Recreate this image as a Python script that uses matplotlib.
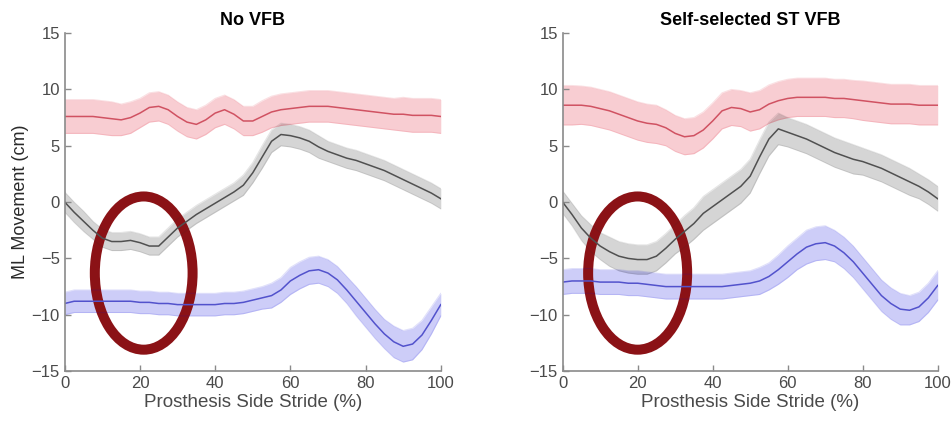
import matplotlib
matplotlib.use('Agg')
import matplotlib.pyplot as plt
import numpy as np
from matplotlib.patches import Ellipse

plt.rcParams['font.family'] = ['Liberation Sans', 'DejaVu Sans']

# stride percentage where the curves were sampled
stride = np.arange(0, 100.1, 2.5)

# No VFB: mean and spread (cm)
novfb_red = [7.6, 7.6, 7.6, 7.6, 7.5, 7.4, 7.3, 7.5, 7.9, 8.4, 8.5, 8.2, 7.6, 7.1, 6.9, 7.3, 7.9, 8.2, 7.8, 7.2, 7.2,
             7.6, 8.0, 8.2, 8.3, 8.4, 8.5, 8.5, 8.5, 8.4, 8.3, 8.2, 8.1, 8.0, 7.9, 7.8, 7.8, 7.7, 7.7, 7.7, 7.6]
novfb_red_sd = [1.5, 1.5, 1.5, 1.5, 1.5, 1.5, 1.4, 1.4, 1.3, 1.3, 1.3, 1.3, 1.3, 1.3, 1.3, 1.3, 1.3, 1.3, 1.3, 1.3, 1.3,
                1.4, 1.4, 1.4, 1.4, 1.4, 1.4, 1.4, 1.4, 1.4, 1.4, 1.4, 1.4, 1.4, 1.4, 1.4, 1.5, 1.5, 1.5, 1.5, 1.5]
novfb_grey = [0.0, -0.9, -1.7, -2.5, -3.2, -3.5, -3.5, -3.4, -3.6, -3.9, -3.9, -3.1, -2.3, -1.7, -1.1, -0.6, -0.1,
              0.4, 0.9, 1.5, 2.6, 4.0, 5.4, 6.0, 5.9, 5.7, 5.4, 4.9, 4.5, 4.2, 3.9, 3.7, 3.4, 3.1, 2.8, 2.4, 2.0,
              1.6, 1.2, 0.8, 0.3]
novfb_grey_sd = [0.9, 0.9, 0.9, 0.8, 0.8, 0.8, 0.8, 0.8, 0.8, 0.8, 0.8, 0.8, 0.8, 0.8, 0.8, 0.8, 0.8, 0.8, 0.8, 0.9,
                 0.9, 1.0, 1.0, 1.0, 1.0, 1.0, 1.0, 1.0, 0.9, 0.9, 0.9, 0.9, 0.9, 0.9, 0.9, 0.9, 0.9, 0.9, 0.9, 0.9,
                 0.9]
novfb_blue = [-9.0, -8.8, -8.8, -8.8, -8.8, -8.8, -8.8, -8.8, -8.9, -8.9, -9.0, -9.0, -9.1, -9.1, -9.1, -9.1, -9.1,
              -9.0, -9.0, -8.9, -8.7, -8.5, -8.3, -7.8, -7.0, -6.5, -6.1, -6.0, -6.3, -6.9, -7.8, -8.8, -9.8, -10.8,
              -11.7, -12.4, -12.8, -12.6, -11.8, -10.5, -9.1]
novfb_blue_sd = [1.0, 1.0, 1.0, 1.0, 1.0, 1.0, 1.0, 1.0, 1.0, 1.0, 1.0, 1.0, 1.0, 1.0, 1.0, 1.0, 1.0, 1.0, 1.0, 1.0,
                 1.0, 1.0, 1.1, 1.1, 1.2, 1.2, 1.2, 1.2, 1.2, 1.2, 1.2, 1.3, 1.3, 1.3, 1.3, 1.4, 1.4, 1.4, 1.3, 1.2,
                 1.0]

# Self-selected ST VFB
st_red = [8.6, 8.6, 8.6, 8.5, 8.3, 8.1, 7.8, 7.5, 7.2, 7.0, 6.9, 6.6, 6.1, 5.8, 5.9, 6.4, 7.2, 8.1, 8.4, 8.3, 8.0,
          8.2, 8.7, 9.0, 9.2, 9.3, 9.3, 9.3, 9.3, 9.2, 9.2, 9.1, 9.0, 8.9, 8.8, 8.7, 8.7, 8.7, 8.6, 8.6, 8.6]
st_red_sd = [1.75, 1.75, 1.7, 1.7, 1.7, 1.7, 1.7, 1.7, 1.7, 1.7, 1.7, 1.6, 1.6, 1.6, 1.6, 1.6, 1.6, 1.6, 1.6, 1.6, 1.7,
             1.7, 1.7, 1.7, 1.7, 1.7, 1.7, 1.7, 1.7, 1.7, 1.7, 1.7, 1.75, 1.75, 1.75, 1.75, 1.75, 1.75, 1.75, 1.75,
             1.75]
st_grey = [0.0, -1.1, -2.3, -3.2, -3.9, -4.4, -4.8, -5.0, -5.1, -5.1, -4.8, -4.1, -3.3, -2.6, -1.9, -1.0, -0.4, 0.2,
           0.8, 1.4, 2.3, 4.0, 5.6, 6.5, 6.2, 5.9, 5.6, 5.2, 4.8, 4.4, 4.1, 3.8, 3.6, 3.3, 3.0, 2.6, 2.2, 1.8, 1.4,
           0.9, 0.3]
st_grey_sd = [1.0, 1.0, 1.1, 1.2, 1.2, 1.3, 1.3, 1.3, 1.3, 1.3, 1.3, 1.3, 1.3, 1.4, 1.4, 1.5, 1.5, 1.5, 1.5, 1.5, 1.5,
              1.5, 1.5, 1.4, 1.3, 1.3, 1.3, 1.3, 1.3, 1.3, 1.3, 1.3, 1.2, 1.2, 1.2, 1.2, 1.2, 1.2, 1.1, 1.1, 1.1]
st_blue = [-7.1, -7.0, -7.0, -7.0, -7.1, -7.1, -7.1, -7.2, -7.2, -7.3, -7.4, -7.5, -7.5, -7.5, -7.5, -7.5, -7.5, -7.5,
           -7.4, -7.3, -7.2, -7.0, -6.6, -6.0, -5.3, -4.6, -4.0, -3.7, -3.6, -3.9, -4.5, -5.3, -6.3, -7.3, -8.3,
           -9.0, -9.5, -9.6, -9.3, -8.5, -7.4]
st_blue_sd = [1.1, 1.1, 1.1, 1.1, 1.1, 1.1, 1.1, 1.1, 1.1, 1.1, 1.1, 1.1, 1.1, 1.1, 1.1, 1.1, 1.1, 1.1, 1.1, 1.1, 1.1,
              1.2, 1.2, 1.3, 1.4, 1.4, 1.5, 1.5, 1.5, 1.4, 1.4, 1.4, 1.4, 1.4, 1.4, 1.4, 1.4, 1.3, 1.3, 1.3, 1.3]

titles = ['No VFB', 'Self-selected ST VFB']
panels = [
    [(novfb_red, novfb_red_sd), (novfb_grey, novfb_grey_sd), (novfb_blue, novfb_blue_sd)],
    [(st_red, st_red_sd), (st_grey, st_grey_sd), (st_blue, st_blue_sd)],
]
# highlighted early-stance region: centre (x, y), width, height
highlights = [((21, -6.3), 26, 13.6), ((20, -6.3), 26.4, 13.6)]

band_colors = ['#dc051e', '#2d2d2d', '#0505dc']
line_colors = ['#d05262', '#505050', '#5252cc']

fig = plt.figure(figsize=(9.52, 4.30), dpi=100)
ax_pos = [[0.068, 0.137, 0.395, 0.786], [0.591, 0.137, 0.394, 0.786]]

for i in range(2):
    ax = fig.add_axes(ax_pos[i])
    x = stride
    for j, (mean, sd) in enumerate(panels[i]):
        mean = np.array(mean)
        sd = np.array(sd)
        ax.fill_between(x, mean - sd, mean + sd, color=band_colors[j], alpha=0.2, lw=0)
        ax.plot(x, mean + sd, color=band_colors[j], alpha=0.12, lw=0.8)
        ax.plot(x, mean - sd, color=band_colors[j], alpha=0.12, lw=0.8)
        ax.plot(x, mean, color=line_colors[j], lw=1.1)
    centre, w, h = highlights[i]
    ax.add_patch(Ellipse(centre, w, h, fill=False, edgecolor='#8b1216', lw=7.2))

    ax.set_xlim(0, 100)
    ax.set_ylim(-15, 15)
    ax.set_xticks([0, 20, 40, 60, 80, 100])
    ax.set_yticks([-15, -10, -5, 0, 5, 10, 15])
    ax.spines['top'].set_visible(False)
    ax.spines['right'].set_visible(False)
    for s in ['left', 'bottom']:
        ax.spines[s].set_color('#8a8a8a')
        ax.spines[s].set_linewidth(1.2)
    ax.tick_params(direction='in', length=4, width=1, color='#8a8a8a', labelcolor='#4a4a4a', labelsize=12)
    ax.set_title(titles[i], fontsize=13, fontweight='bold', pad=6)
    ax.set_xlabel('Prosthesis Side Stride (%)', fontsize=13.5, color='#4a4a4a', labelpad=2)
    if i == 0:
        ax.set_ylabel('ML Movement (cm)', fontsize=13, color='#2a2a2a', labelpad=2)

fig.savefig('out.png', dpi=100)
